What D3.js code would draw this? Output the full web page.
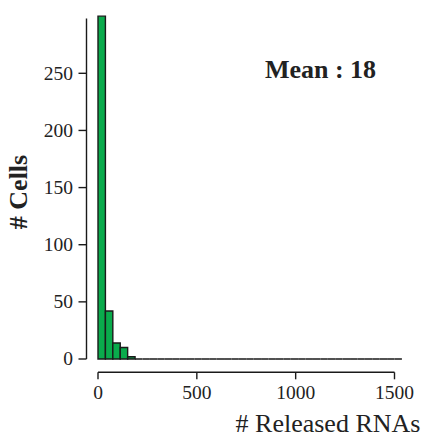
<!DOCTYPE html>
<html>
<head>
<meta charset="utf-8">
<script src="https://cdn.jsdelivr.net/npm/d3@7"></script>
<style>
  body { margin: 0; background: #fff; }
</style>
</head>
<body>
<div id="chart"></div>
<script>
// histogram bins (width in # released RNAs) and counts per bin
const binWidth = 37.5;
const binCounts = [300, 42, 14, 10, 2, 0, 0, 0, 0, 0, 0, 0, 0, 0, 0, 0, 0, 0, 0, 0,
  0, 0, 0, 0, 0, 0, 0, 0, 0, 0, 0, 0, 0, 0, 0, 0, 0, 0, 0, 0, 0];
const xTicks = [0, 500, 1000, 1500];
const yTicks = [0, 50, 100, 150, 200, 250];
const yAxisTop = 298;
const meanLabel = 'Mean : 18';

const width = 425, height = 437;
const font = "'Liberation Serif', 'Times New Roman', Times, serif";

const svg = d3.select('#chart').append('svg')
  .attr('width', width)
  .attr('height', height)
  .style('display', 'block');

const x = d3.scaleLinear().domain([0, 1500]).range([98, 394.5]);
const y = d3.scaleLinear().domain([0, 250]).range([359, 73.3]);

const bins = binCounts.map((c, i) => ({ x0: i * binWidth, x1: (i + 1) * binWidth, count: c }));

// bars (paths so empty bins still show their outline on the baseline)
svg.append('g')
  .selectAll('path')
  .data(bins)
  .enter()
  .append('path')
  .attr('d', d => {
    const x0 = x(d.x0), x1 = x(d.x1), y0 = y(0), y1 = y(d.count);
    return `M${x0},${y0}V${y1}H${x1}V${y0}Z`;
  })
  .attr('fill', '#0aab4c')
  .attr('stroke', '#1a1a1a')
  .attr('stroke-width', 1.4);

// y axis
const yAxis = svg.append('g').attr('transform', 'translate(86.5,0)');
yAxis.append('line')
  .attr('y1', y(0)).attr('y2', y(yAxisTop))
  .attr('stroke', '#1a1a1a').attr('stroke-width', 1.4);
yAxis.selectAll('.yt').data(yTicks).enter().append('line')
  .attr('x1', 0).attr('x2', -8)
  .attr('y1', d => y(d)).attr('y2', d => y(d))
  .attr('stroke', '#1a1a1a').attr('stroke-width', 1.4);
yAxis.selectAll('.yl').data(yTicks).enter().append('text')
  .attr('x', -13.5).attr('y', d => y(d)).attr('dy', '0.33em')
  .attr('text-anchor', 'end')
  .attr('font-family', font)
  .attr('font-size', 19.5)
  .attr('fill', '#222')
  .text(d => d);

// x axis
const xAxis = svg.append('g').attr('transform', 'translate(0,372.3)');
xAxis.append('line')
  .attr('x1', x(0)).attr('x2', x(1500))
  .attr('stroke', '#1a1a1a').attr('stroke-width', 1.4);
xAxis.selectAll('.xt').data(xTicks).enter().append('line')
  .attr('x1', d => x(d)).attr('x2', d => x(d))
  .attr('y1', 0).attr('y2', 7)
  .attr('stroke', '#1a1a1a').attr('stroke-width', 1.4);
xAxis.selectAll('.xl').data(xTicks).enter().append('text')
  .attr('x', d => x(d)).attr('y', 27)
  .attr('text-anchor', 'middle')
  .attr('font-family', font)
  .attr('font-size', 19.5)
  .attr('fill', '#222')
  .text(d => d);

// labels
svg.append('text')
  .attr('x', 328).attr('y', 432)
  .attr('text-anchor', 'middle')
  .attr('font-family', font)
  .attr('font-size', 26)
  .attr('fill', '#222')
  .text('# Released RNAs');

svg.append('text')
  .attr('transform', 'translate(27,192) rotate(-90)')
  .attr('text-anchor', 'middle')
  .attr('font-family', font)
  .attr('font-size', 26)
  .attr('font-weight', 'bold')
  .attr('fill', '#222')
  .text('# Cells');

svg.append('text')
  .attr('x', 320.5).attr('y', 77.5)
  .attr('text-anchor', 'middle')
  .attr('font-family', font)
  .attr('font-size', 26)
  .attr('font-weight', 'bold')
  .attr('fill', '#222')
  .text(meanLabel);
</script>
</body>
</html>
